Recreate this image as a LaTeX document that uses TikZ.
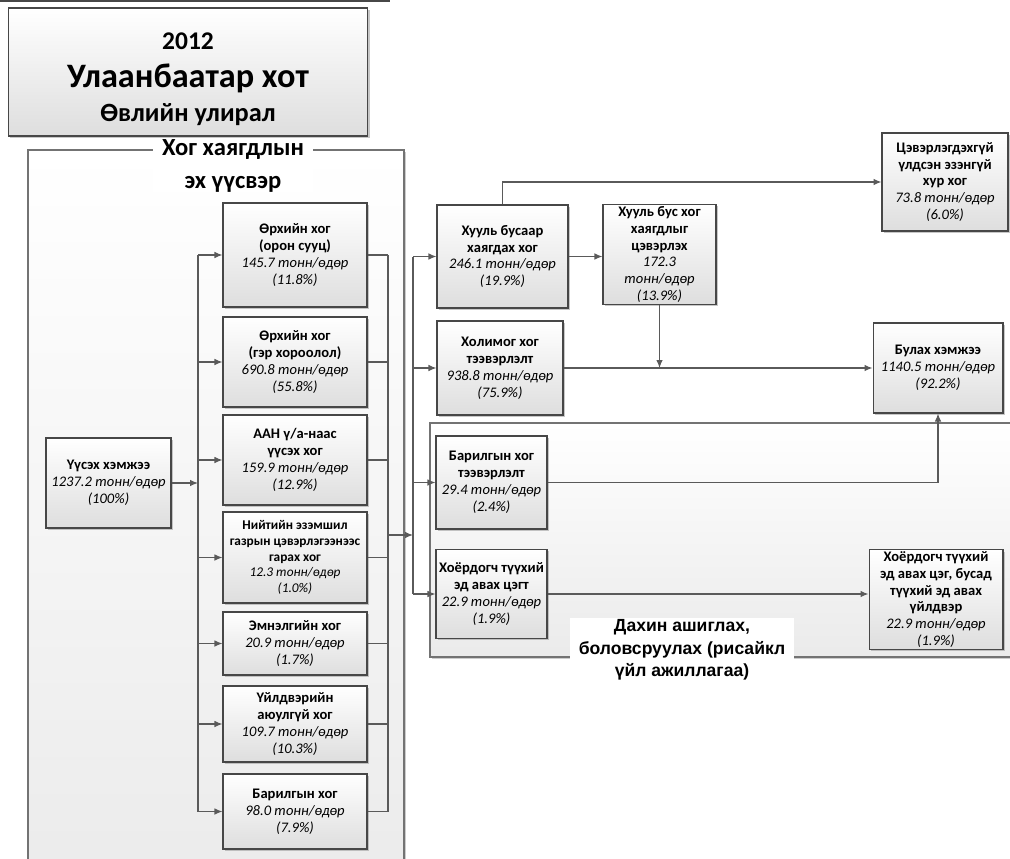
\documentclass[tikz,border=0pt]{standalone}
\usepackage{fontspec}
\setmainfont{Carlito}
\newfontfamily\arialfont{Liberation Sans}
\usetikzlibrary{arrows.meta,shadows}
\definecolor{boxline}{HTML}{474747}
\definecolor{linegray}{HTML}{5A5A5A}

\begin{document}
\begin{tikzpicture}[x=0.02cm,y=-0.02cm,
		box/.style={draw=boxline,line width=0.6pt,top color=white,bottom color=black!13,
			drop shadow={shadow xshift=1.1pt,shadow yshift=-1.1pt,fill=black!40,opacity=.55},
			align=center,inner sep=1pt,font=\fontsize{8.3}{9.6}\selectfont},
		frame/.style={draw=black!55,line width=0.6pt,top color=white,bottom color=black!8,
			drop shadow={shadow xshift=1.1pt,shadow yshift=-1.1pt,fill=black!40,opacity=.5}},
		conn/.style={draw=linegray,line width=0.6pt},
		arr/.style={conn,-{Latex[length=1.6mm,width=1.3mm]}}]
			\useasboundingbox (0,0) rectangle (1010,858);
			
			% Дээд хүрээний ирмэг
			\draw[boxline,line width=0.9pt] (0,1) -- (390,1);
			
			% Хоёр том хүрээ
			\draw[frame] (28,150) rectangle (404,900);
			\draw[frame] (430,423) rectangle (1040,657);
			
			\node[fill=white,align=center,inner xsep=5pt,inner ysep=0pt,
				font=\fontsize{14}{18.7}\selectfont\bfseries] (srctitle) at (233,166) {Хог хаягдлын\\эх үүсвэр};
			\node[fill=white,align=center,inner xsep=5pt,inner ysep=1pt,
				font=\arialfont\bfseries\fontsize{10}{12.8}\selectfont] (rectitle) at (682,650) {Дахин ашиглах,\\боловсруулах (рисайкл\\үйл ажиллагаа)};
			
			% Гарчиг
			\node[box,minimum width=7.2cm,minimum height=2.56cm,font=\bfseries\fontsize{15}{17.6}\selectfont] (title) at (188,72)
				{\rule{0pt}{18pt}{\fontsize{14.5}{17.6}\selectfont 2012}\\[4pt]{\fontsize{19.5}{17.6}\selectfont Улаанбаатар хот}\\[1.5pt]Өвлийн улирал};
			
			% Эх үүсвэрүүд
			\node[box,minimum width=2.5cm,minimum height=1.8cm] (src) at (108.5,483)
				{\textbf{Үүсэх хэмжээ}\\\textit{1237.2 тонн/өдөр}\\\textit{(100\%)}};
			\node[box,minimum width=2.88cm,minimum height=2.08cm] (s1) at (295,255)
				{\textbf{Өрхийн хог}\\\textbf{(орон сууц)}\\\textit{145.7 тонн/өдөр}\\\textit{(11.8\%)}};
			\node[box,minimum width=2.88cm,minimum height=1.8cm] (s2) at (295,362)
				{\textbf{Өрхийн хог}\\\textbf{(гэр хороолол)}\\\textit{690.8 тонн/өдөр}\\\textit{(55.8\%)}};
			\node[box,minimum width=2.88cm,minimum height=1.8cm] (s3) at (295,460)
				{\textbf{ААН ү/а-наас}\\\textbf{үүсэх хог}\\\textit{159.9 тонн/өдөр}\\\textit{(12.9\%)}};
			\node[box,minimum width=2.88cm,minimum height=1.82cm,font=\fontsize{7.6}{8.9}\selectfont] (s4) at (295,557.5)
				{\textbf{Нийтийн эзэмшил}\\\textbf{газрын цэвэрлэгээнээс}\\\textbf{гарах хог}\\\textit{12.3 тонн/өдөр}\\\textit{(1.0\%)}};
			\node[box,minimum width=2.88cm,minimum height=1.26cm] (s5) at (295,643.5)
				{\textbf{Эмнэлгийн хог}\\\textit{20.9 тонн/өдөр}\\\textit{(1.7\%)}};
			\node[box,minimum width=2.88cm,minimum height=1.52cm] (s6) at (295,724)
				{\textbf{Үйлдвэрийн}\\\textbf{аюулгүй хог}\\\textit{109.7 тонн/өдөр}\\\textit{(10.3\%)}};
			\node[box,minimum width=2.88cm,minimum height=1.5cm] (s7) at (295,811.5)
				{\textbf{Барилгын хог}\\\textit{98.0 тонн/өдөр}\\\textit{(7.9\%)}};
			
			% Тээвэрлэлт, цэвэрлэгээ
			\node[box,minimum width=2.62cm,minimum height=2.06cm] (r1) at (502.5,256.5)
				{\textbf{Хууль бусаар}\\\textbf{хаягдах хог}\\\textit{246.1 тонн/өдөр}\\\textit{(19.9\%)}};
			\node[box,minimum width=2.52cm,minimum height=1.88cm] (r2) at (500,368)
				{\textbf{Холимог хог}\\\textbf{тээвэрлэлт}\\\textit{938.8 тонн/өдөр}\\\textit{(75.9\%)}};
			\node[box,minimum width=2.22cm,minimum height=1.86cm] (r3) at (491.5,482.5)
				{\textbf{Барилгын хог}\\\textbf{тээвэрлэлт}\\\textit{29.4 тонн/өдөр}\\\textit{(2.4\%)}};
			\node[box,minimum width=2.22cm,minimum height=1.78cm] (r4) at (491.5,594)
				{\textbf{Хоёрдогч түүхий}\\\textbf{эд авах цэгт}\\\textit{22.9 тонн/өдөр}\\\textit{(1.9\%)}};
			\node[box,minimum width=2.26cm,minimum height=1.98cm] (clean) at (659.5,254.5)
				{\textbf{Хууль бус хог}\\\textbf{хаягдлыг}\\\textbf{цэвэрлэх}\\\textit{172.3}\\\textit{тонн/өдөр}\\\textit{(13.9\%)}};
			
			% Эцсийн цэгүүд
			\node[box,minimum width=2.52cm,minimum height=1.96cm] (unc) at (945,182)
				{\textbf{Цэвэрлэгдэхгүй}\\\textbf{үлдсэн эзэнгүй}\\\textbf{хур хог}\\\textit{73.8 тонн/өдөр}\\\textit{(6.0\%)}};
			\node[box,minimum width=2.6cm,minimum height=1.8cm] (land) at (938,368)
				{\textbf{Булах хэмжээ}\\\textit{1140.5 тонн/өдөр}\\\textit{(92.2\%)}};
			\node[box,minimum width=2.68cm,minimum height=1.98cm] (sec) at (936,599.5)
				{\textbf{Хоёрдогч түүхий}\\\textbf{эд авах цэг, бусад}\\\textbf{түүхий эд авах}\\\textbf{үйлдвэр}\\\textit{22.9 тонн/өдөр}\\\textit{(1.9\%)}};
			
			% Салаалах шугамууд
			\coordinate (busL) at (198,483);
			\coordinate (busR) at (388,535);
			\coordinate (busM) at (413,535);
			\draw[arr] (src.east) -- (busL);
			\draw[conn] (busL |- s1.west) -- (busL |- s7.west);
			\draw[conn] (busR |- s1.east) -- (busR |- s7.east);
			\foreach \n in {s1,s2,s3,s4,s5,s6,s7} {
				\draw[arr] (busL |- \n.west) -- (\n.west);
				\draw[conn] (\n.east) -- (busR |- \n.east);
			}
			\draw[arr] (busR) -- (busM);
			\draw[conn] (busM |- r1.west) -- (busM |- r4.west);
			\foreach \n in {r1,r2,r3,r4}
				\draw[arr] (busM |- \n.west) -- (\n.west);
			
			% Урсгалууд
			\draw[arr] (r1.east) -- (r1.east -| clean.west);
			\draw[arr] (r1.north) |- (unc.west);
			\draw[arr] (clean.south) -- (clean.south |- r2.east);
			\draw[arr] (r2.east) -- (land.west);
			\draw[arr] (r3.east) -| (land.south);
			\draw[arr] (r4.east) -- (r4.east -| sec.west);
	\end{tikzpicture}
\end{document}
